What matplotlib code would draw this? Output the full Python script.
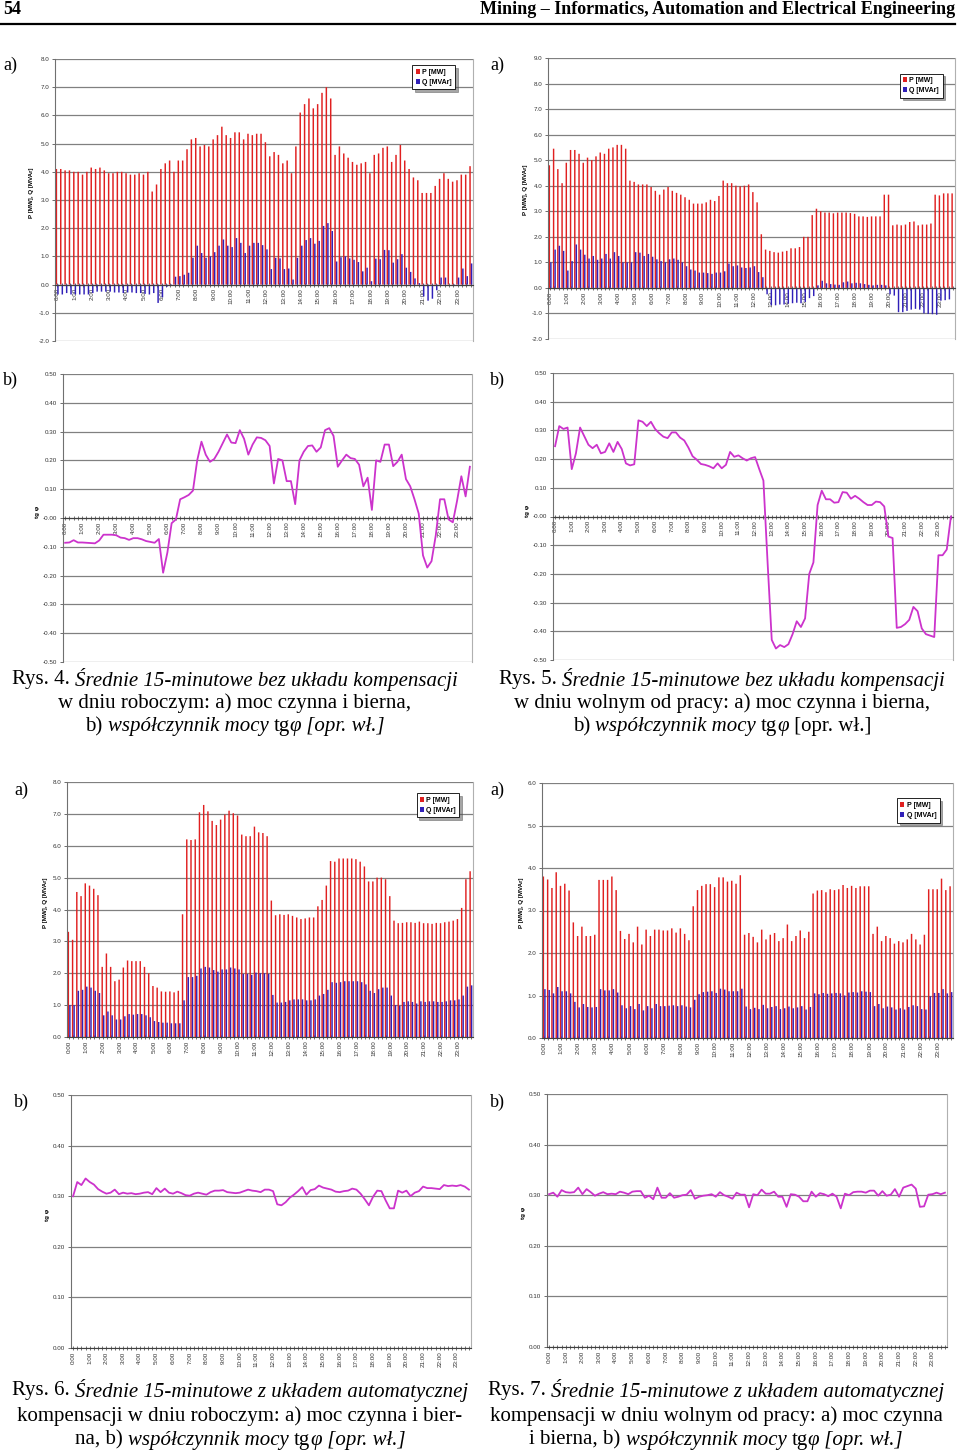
import matplotlib
matplotlib.use("Agg")
import matplotlib.pyplot as plt
import numpy as np
from matplotlib.ticker import FormatStrFormatter

# --- data (15-minute averages, 96 per day) ---
hours = ["%d:00" % h for h in range(24)]

# Rys. 4 - working day, no compensation
p_work = [4.1, 4.1, 4.05, 4.05, 4.0, 4.0, 3.9, 4.0, 4.15, 4.1, 4.15, 4.05, 3.95, 3.95, 4.0, 4.0,
          3.95, 3.9, 3.9, 3.95, 3.9, 4.0, 3.3, 3.55, 4.1, 4.3, 4.4, 4.0, 4.4, 4.4, 4.8, 5.15,
          5.2, 4.9, 4.95, 4.9, 5.15, 5.3, 5.6, 5.3, 5.2, 5.4, 5.4, 5.15, 5.35, 5.3, 5.35, 5.35,
          5.05, 4.55, 4.7, 4.6, 4.3, 4.4, 3.95, 4.9, 6.1, 6.4, 6.6, 6.25, 6.4, 6.8, 7.0, 6.6,
          4.6, 4.9, 4.65, 4.5, 4.35, 4.25, 4.3, 4.35, 3.95, 4.6, 4.65, 4.85, 4.9, 4.35, 4.6, 4.95,
          4.4, 4.1, 3.8, 3.7, 3.25, 3.25, 3.25, 3.5, 3.75, 3.95, 3.75, 3.65, 3.7, 3.9, 3.9, 4.2]
q_work = [-0.35, -0.35, -0.3, -0.35, -0.35, -0.35, -0.35, -0.35, -0.3, -0.25, -0.25, -0.25, -0.25, -0.28, -0.28, -0.3,
          -0.28, -0.28, -0.3, -0.3, -0.33, -0.35, -0.3, -0.65, -0.45, -0.08, -0.03, 0.28, 0.3, 0.35, 0.42, 0.95,
          1.38, 1.12, 0.95, 1.0, 1.15, 1.38, 1.6, 1.38, 1.33, 1.65, 1.48, 1.12, 1.38, 1.48, 1.48, 1.4,
          1.25, 0.55, 0.95, 0.93, 0.55, 0.57, 0.18, 0.95, 1.38, 1.58, 1.65, 1.45, 1.55, 2.08, 2.18, 1.9,
          0.82, 0.97, 1.0, 0.93, 0.88, 0.8, 0.47, 0.6, 0.12, 0.92, 0.9, 1.23, 1.22, 0.78, 0.9, 1.08,
          0.6, 0.45, 0.22, 0.05, -0.42, -0.57, -0.5, -0.2, 0.25, 0.25, 0.0, -0.05, 0.25, 0.57, 0.3, 0.75]
tg_work = [-0.086, -0.085, -0.077, -0.085, -0.085, -0.086, -0.087, -0.088, -0.078, -0.058, -0.058, -0.058,
           -0.06, -0.068, -0.07, -0.076, -0.07, -0.07, -0.074, -0.08, -0.083, -0.086, -0.073, -0.19,
           -0.12, -0.018, -0.005, 0.065, 0.072, 0.08, 0.095, 0.2, 0.265, 0.22, 0.195, 0.205,
           0.23, 0.26, 0.29, 0.262, 0.26, 0.305, 0.275, 0.22, 0.255, 0.28, 0.278, 0.27,
           0.25, 0.12, 0.205, 0.2, 0.128, 0.128, 0.048, 0.2, 0.23, 0.25, 0.252, 0.23,
           0.245, 0.305, 0.312, 0.285, 0.178, 0.2, 0.22, 0.208, 0.205, 0.185, 0.11, 0.14,
           0.028, 0.2, 0.195, 0.255, 0.255, 0.18, 0.195, 0.22, 0.135, 0.11, 0.065, 0.015,
           -0.13, -0.172, -0.15, -0.06, 0.065, 0.065, -0.005, -0.015, 0.06, 0.145, 0.075, 0.178]

# Rys. 5 - day off, no compensation
p_free = [4.8, 5.45, 4.65, 4.1, 4.9, 5.4, 5.4, 5.25, 4.9, 5.1, 5.0, 5.15, 5.3, 5.25, 5.45, 5.5,
          5.6, 5.6, 5.45, 4.2, 4.15, 4.05, 4.05, 4.05, 3.95, 3.8, 3.65, 3.85, 3.95, 3.8, 3.72, 3.65,
          3.55, 3.45, 3.3, 3.3, 3.3, 3.35, 3.45, 3.4, 3.6, 4.2, 4.1, 4.1, 4.0, 3.98, 4.0, 4.05,
          3.75, 3.35, 2.1, 1.5, 1.45, 1.4, 1.38, 1.42, 1.45, 1.55, 1.55, 1.6, 2.0, 2.0, 2.85, 3.1,
          3.0, 2.95, 2.95, 2.92, 2.95, 2.95, 2.95, 2.93, 2.9, 2.8, 2.8, 2.78, 2.8, 2.8, 2.8, 3.65,
          3.65, 2.45, 2.48, 2.45, 2.48, 2.58, 2.6, 2.45, 2.48, 2.48, 2.52, 3.65, 3.62, 3.7, 3.7, 3.7]
q_free = [1.0, 1.5, 1.65, 1.45, 0.68, 1.05, 1.7, 1.5, 1.3, 1.15, 1.25, 1.1, 1.15, 1.33, 1.15, 1.4,
          1.25, 1.0, 1.0, 1.0, 1.4, 1.38, 1.25, 1.33, 1.22, 1.12, 1.05, 1.0, 1.12, 1.15, 1.1, 1.0,
          0.85, 0.72, 0.68, 0.6, 0.6, 0.58, 0.55, 0.6, 0.6, 0.65, 0.95, 0.85, 0.88, 0.8, 0.78, 0.8,
          0.85, 0.62, 0.42, -0.25, -0.68, -0.68, -0.65, -0.65, -0.62, -0.6, -0.58, -0.6, -0.55, -0.4, -0.32, 0.1,
          0.28, 0.18, 0.15, 0.13, 0.12, 0.22, 0.25, 0.18, 0.2, 0.18, 0.15, 0.12, 0.1, 0.12, 0.12, 0.1,
          -0.25, -0.3, -0.95, -0.95, -0.9, -0.85, -0.82, -0.85, -1.0, -1.02, -1.03, -1.05, -0.5, -0.48, -0.45, -0.02]
tg_free = [0.245, 0.315, 0.305, 0.31, 0.165, 0.22, 0.31, 0.28, 0.25, 0.238, 0.25, 0.22,
           0.225, 0.255, 0.225, 0.26, 0.235, 0.185, 0.178, 0.182, 0.335, 0.33, 0.315, 0.33,
           0.305, 0.29, 0.278, 0.273, 0.293, 0.293, 0.275, 0.265, 0.24, 0.21, 0.198, 0.183,
           0.18, 0.175, 0.168, 0.185, 0.168, 0.18, 0.225, 0.208, 0.213, 0.203, 0.195, 0.203,
           0.207, 0.165, 0.125, -0.16, -0.43, -0.46, -0.448, -0.455, -0.445, -0.41, -0.365, -0.385,
           -0.355, -0.2, -0.16, 0.04, 0.09, 0.06, 0.06, 0.048, 0.05, 0.085, 0.083, 0.062,
           0.072, 0.062, 0.05, 0.04, 0.04, 0.052, 0.05, 0.035, -0.07, -0.075, -0.388, -0.385,
           -0.375, -0.36, -0.315, -0.33, -0.39, -0.41, -0.415, -0.42, -0.135, -0.135, -0.115, 0.0]

# Rys. 6 - working day, automatic compensation
p_work_c = [3.3, 3.05, 4.55, 4.42, 4.82, 4.75, 4.65, 4.45, 2.2, 2.62, 2.2, 1.75, 1.8, 2.18, 2.4, 2.38,
            2.38, 2.38, 2.2, 2.0, 1.6, 1.55, 1.43, 1.42, 1.43, 1.4, 1.45, 3.85, 6.2, 6.18, 6.2, 7.05,
            7.28, 7.08, 6.78, 6.65, 6.82, 6.98, 7.1, 7.02, 6.95, 6.35, 6.3, 6.3, 6.6, 6.42, 6.4, 6.3,
            4.28, 3.82, 3.85, 3.83, 3.85, 3.8, 3.75, 3.7, 3.72, 3.75, 3.75, 4.1, 4.3, 4.75, 5.52, 5.5,
            5.6, 5.6, 5.6, 5.6, 5.58, 5.5, 5.35, 4.88, 4.88, 5.0, 5.0, 4.95, 4.42, 3.65, 3.57, 3.58,
            3.6, 3.6, 3.58, 3.62, 3.57, 3.57, 3.55, 3.58, 3.57, 3.6, 3.62, 3.65, 3.7, 4.05, 4.95, 5.2]
q_work_c = [1.0, 1.0, 1.45, 1.48, 1.58, 1.55, 1.45, 1.38, 0.68, 0.8, 0.68, 0.55, 0.55, 0.65, 0.72, 0.7,
            0.72, 0.72, 0.68, 0.62, 0.5, 0.47, 0.45, 0.45, 0.43, 0.43, 0.43, 1.15, 1.88, 1.88, 1.92, 2.15,
            2.2, 2.18, 2.1, 2.05, 2.12, 2.12, 2.18, 2.15, 2.12, 1.98, 1.98, 1.95, 2.02, 2.0, 2.0, 1.98,
            1.32, 1.08, 1.08, 1.1, 1.15, 1.18, 1.18, 1.18, 1.15, 1.15, 1.18, 1.3, 1.35, 1.48, 1.72, 1.7,
            1.72, 1.75, 1.75, 1.75, 1.75, 1.72, 1.65, 1.45, 1.38, 1.5, 1.55, 1.55, 1.3, 1.0, 0.98, 1.1,
            1.12, 1.1, 1.05, 1.12, 1.1, 1.12, 1.12, 1.1, 1.1, 1.12, 1.15, 1.15, 1.18, 1.3, 1.58, 1.62]
tg_work_c = [0.3, 0.328, 0.322, 0.335, 0.328, 0.323, 0.314, 0.309, 0.305, 0.307, 0.313, 0.304,
             0.307, 0.305, 0.306, 0.304, 0.305, 0.307, 0.308, 0.304, 0.316, 0.308, 0.315, 0.307,
             0.305, 0.309, 0.306, 0.302, 0.301, 0.305, 0.307, 0.305, 0.303, 0.308, 0.311, 0.311,
             0.312, 0.308, 0.307, 0.306, 0.307, 0.31, 0.313, 0.311, 0.31, 0.308, 0.313, 0.313,
             0.31, 0.284, 0.282, 0.288, 0.297, 0.303, 0.31, 0.318, 0.303, 0.312, 0.314, 0.321,
             0.317, 0.315, 0.313, 0.309, 0.308, 0.31, 0.311, 0.315, 0.313, 0.305, 0.294, 0.282,
             0.299, 0.311, 0.31, 0.292, 0.276, 0.276, 0.311, 0.307, 0.311, 0.3, 0.307, 0.31,
             0.319, 0.316, 0.316, 0.315, 0.314, 0.322, 0.32, 0.321, 0.32, 0.322, 0.319, 0.313]

# Rys. 7 - day off, automatic compensation
p_free_c = [3.8, 3.73, 3.53, 3.9, 3.58, 3.63, 3.47, 2.72, 2.4, 2.62, 2.4, 2.4, 2.43, 3.72, 3.72, 3.72,
            3.8, 3.48, 2.52, 2.33, 2.45, 2.25, 2.62, 2.2, 2.55, 2.4, 2.55, 2.55, 2.53, 2.53, 2.58, 2.48,
            2.58, 2.45, 2.3, 3.1, 3.48, 3.58, 3.62, 3.62, 3.55, 3.78, 3.78, 3.68, 3.7, 3.63, 3.83, 2.43,
            2.47, 2.38, 2.25, 2.55, 2.32, 2.43, 2.47, 2.28, 2.35, 2.67, 2.28, 2.4, 2.53, 2.35, 2.5, 3.4,
            3.47, 3.48, 3.43, 3.5, 3.48, 3.5, 3.6, 3.53, 3.58, 3.53, 3.57, 3.57, 3.57, 2.45, 2.62, 2.28,
            2.4, 2.35, 2.22, 2.28, 2.25, 2.32, 2.45, 2.32, 2.2, 2.43, 3.5, 3.5, 3.5, 3.75, 3.48, 3.57]
q_free_c = [1.15, 1.13, 1.05, 1.2, 1.1, 1.1, 1.05, 0.85, 0.72, 0.8, 0.73, 0.72, 0.73, 1.15, 1.12, 1.12,
            1.15, 1.07, 0.77, 0.7, 0.75, 0.68, 0.8, 0.65, 0.75, 0.7, 0.8, 0.75, 0.75, 0.76, 0.77, 0.75,
            0.77, 0.74, 0.72, 0.9, 1.03, 1.08, 1.09, 1.1, 1.06, 1.16, 1.14, 1.1, 1.1, 1.1, 1.16, 0.74,
            0.68, 0.71, 0.68, 0.78, 0.7, 0.73, 0.75, 0.68, 0.7, 0.74, 0.7, 0.72, 0.75, 0.67, 0.73, 1.05,
            1.03, 1.06, 1.04, 1.05, 1.06, 1.05, 1.0, 1.07, 1.08, 1.07, 1.1, 1.09, 1.08, 0.75, 0.8, 0.7,
            0.74, 0.72, 0.67, 0.7, 0.67, 0.73, 0.77, 0.75, 0.68, 0.67, 0.98, 1.06, 1.06, 1.15, 1.05, 1.08]
tg_free_c = [0.302, 0.305, 0.297, 0.31, 0.306, 0.305, 0.306, 0.315, 0.302, 0.312, 0.306, 0.299,
             0.303, 0.306, 0.302, 0.303, 0.302, 0.307, 0.305, 0.302, 0.307, 0.308, 0.308, 0.295,
             0.299, 0.292, 0.315, 0.295, 0.295, 0.304, 0.295, 0.297, 0.3, 0.301, 0.31, 0.293,
             0.297, 0.299, 0.3, 0.302, 0.297, 0.306, 0.3, 0.297, 0.293, 0.305, 0.301, 0.301,
             0.276, 0.302, 0.3, 0.311, 0.303, 0.303, 0.307, 0.297, 0.297, 0.277, 0.302, 0.301,
             0.297, 0.288, 0.288, 0.307, 0.297, 0.304, 0.302, 0.298, 0.303, 0.297, 0.274, 0.303,
             0.3, 0.306, 0.307, 0.307, 0.305, 0.309, 0.309, 0.299, 0.308, 0.299, 0.301, 0.312,
             0.297, 0.315, 0.318, 0.321, 0.313, 0.277, 0.278, 0.301, 0.302, 0.305, 0.302, 0.305]

W, H = 960, 1453
fig = plt.figure(figsize=(W / 100, H / 100), dpi=100)
fig.patch.set_facecolor("white")

RED = "#e02020"
BLUE = "#3020b8"
MAG = "#cc33cc"
SANS = "Liberation Sans"
SERIF = "Liberation Serif"
x = np.arange(96)


def box(x0, y0, x1, y1):
    return fig.add_axes([x0 / W, 1 - y1 / H, (x1 - x0) / W, (y1 - y0) / H])


def style(ax, ymin, ymax, step, fmt, zero_axis):
    # move the category axis first: set_position resets the tick settings
    if zero_axis:
        ax.spines["bottom"].set_position(("data", 0))
    ax.set_xlim(-0.5, 95.5)
    ax.set_ylim(ymin, ymax)
    ax.set_yticks(np.arange(ymin, ymax + step / 2, step))
    ax.yaxis.set_major_formatter(FormatStrFormatter(fmt))
    ax.grid(axis="y", color="#808080", lw=0.9)
    ax.set_axisbelow(True)
    ax.set_xticks(x[::4])
    ax.set_xticklabels(hours, rotation=90, fontsize=4.5, family=SANS)
    ax.set_xticks(x, minor=True)
    ax.tick_params(axis="x", which="both", direction="inout", length=3, width=0.5, pad=1, colors="#333333")
    ax.tick_params(axis="y", labelsize=4.5, length=2, width=0.5, pad=2, colors="#333333")
    for lab in ax.get_yticklabels():
        lab.set_family(SANS)
    ax.spines["top"].set_visible(False)
    ax.spines["right"].set_color("#b0b0b0")
    ax.spines["left"].set_color("#707070")
    ax.spines["bottom"].set_color("#404040")


def bars(ax, p, q, ymin, ymax, zero_axis, leg_anchor):
    ax.bar(x - 0.18, p, width=0.34, color=RED, label="P [MW]", lw=0, snap=False)
    ax.bar(x + 0.18, q, width=0.34, color=BLUE, label="Q [MVAr]", lw=0, snap=False)
    style(ax, ymin, ymax, 1.0, "%.1f", zero_axis)
    leg = ax.legend(loc="upper right", bbox_to_anchor=leg_anchor, prop={"family": SANS, "size": 5, "weight": "bold"},
                    frameon=True, fancybox=False, shadow=True, handlelength=0.6, handleheight=0.7,
                    handletextpad=0.3, borderpad=0.5, labelspacing=0.45)
    leg.get_frame().set_edgecolor("black")
    leg.get_frame().set_linewidth(0.6)


def tgline(ax, tg, ymin, ymax, zero_axis):
    ax.plot(x, tg, color=MAG, lw=1.3, zorder=3)
    style(ax, ymin, ymax, 0.1, "%.2f", zero_axis)


ax1 = box(55, 59, 473, 341)
bars(ax1, p_work, q_work, -2, 8, True, (0.965, 0.99))
ax2 = box(548, 58, 955, 339)
bars(ax2, p_free, q_free, -2, 9, True, (0.978, 0.957))
ax3 = box(63, 374, 472, 662)
tgline(ax3, tg_work, -0.5, 0.5, True)
ax4 = box(553, 373, 953, 660)
tgline(ax4, tg_free, -0.5, 0.5, True)
ax5 = box(67, 782, 473, 1037)
bars(ax5, p_work_c, q_work_c, 0, 8, False, (0.975, 0.969))
ax6 = box(542, 783, 953, 1038)
bars(ax6, p_free_c, q_free_c, 0, 6, False, (0.976, 0.953))
ax7 = box(71, 1095, 471, 1348)
tgline(ax7, tg_work_c, 0, 0.5, False)
ax8 = box(547, 1094, 947, 1347)
tgline(ax8, tg_free_c, 0, 0.5, False)


def ftext(px, py, s, **kw):
    return fig.text(px / W, 1 - py / H, s, **kw)


# axis titles
for px, py in [(32, 193), (526, 190), (46, 903), (521, 903)]:
    ftext(px, py, "P [MW], Q [MVAr]", rotation=90, ha="center", va="center", fontsize=4.5,
          fontweight="bold", family=SANS)
for px, py in [(38, 512), (528, 511), (47, 1215), (523, 1213)]:
    ftext(px, py, "tg φ", rotation=90, ha="center", va="center", fontsize=4.5, fontweight="bold", family=SANS)

# panel letters
for px, py, s in [(3, 65, "a)"), (490, 65, "a)"), (3, 380, "b)"), (490, 380, "b)"),
                  (14, 790, "a)"), (490, 790, "a)"), (14, 1102, "b)"), (490, 1102, "b)")]:
    ftext(px, py, s, ha="left", va="center", fontsize=13, family=SERIF)

# page header
ftext(3, 9, "54", ha="left", va="center", fontsize=13, fontweight="bold", family=SERIF)
ftext(955, 9, "Mining – Informatics, Automation and Electrical Engineering", ha="right", va="center",
      fontsize=13, fontweight="bold", family=SERIF)
fig.add_artist(plt.Line2D([0, 955 / W], [1 - 24 / H, 1 - 24 / H], color="black", lw=1.6))

renderer = fig.canvas.get_renderer()


def rich_line(segs, xc, py, size=15):
    arts = []
    for s, st in segs:
        t = ftext(0, py, s, ha="left", va="center", fontsize=size, family=SERIF, style=st)
        arts.append(t)
    widths = [t.get_window_extent(renderer).width for t in arts]
    left = xc - sum(widths) / 2
    for t, w in zip(arts, widths):
        t.set_x(left / W)
        left += w


N, I = "normal", "italic"
captions = [
    (235, [679, 703, 727], [
        [("Rys. 4. ", N), ("Średnie 15-minutowe bez układu kompensacji", I)],
        [("w dniu roboczym: a) moc czynna i bierna,", N)],
        [("b) ", N), ("współczynnik mocy ", I), ("tg", N), ("φ", I), (" [opr. wł.]", I)]]),
    (722, [679, 703, 727], [
        [("Rys. 5. ", N), ("Średnie 15-minutowe bez układu kompensacji", I)],
        [("w dniu wolnym od pracy: a) moc czynna i bierna,", N)],
        [("b) ", N), ("współczynnik mocy ", I), ("tg", N), ("φ", I), (" [opr. wł.]", N)]]),
    (240, [1391, 1416, 1440], [
        [("Rys. 6. ", N), ("Średnie 15-minutowe z układem automatycznej", I)],
        [("kompensacji w dniu roboczym: a) moc czynna i bier-", N)],
        [("na, b) ", N), ("współczynnik mocy ", I), ("tg", N), ("φ", I), (" [opr. wł.]", I)]]),
    (716, [1391, 1416, 1440], [
        [("Rys. 7. ", N), ("Średnie 15-minutowe z układem automatycznej", I)],
        [("kompensacji w dniu wolnym od pracy: a) moc czynna", N)],
        [("i bierna, b) ", N), ("współczynnik mocy ", I), ("tg", N), ("φ", I), (" [opr. wł.]", I)]]),
]
for xc, ys, lines in captions:
    for py, segs in zip(ys, lines):
        rich_line(segs, xc, py)

fig.savefig("out.png", dpi=100, facecolor="white")
